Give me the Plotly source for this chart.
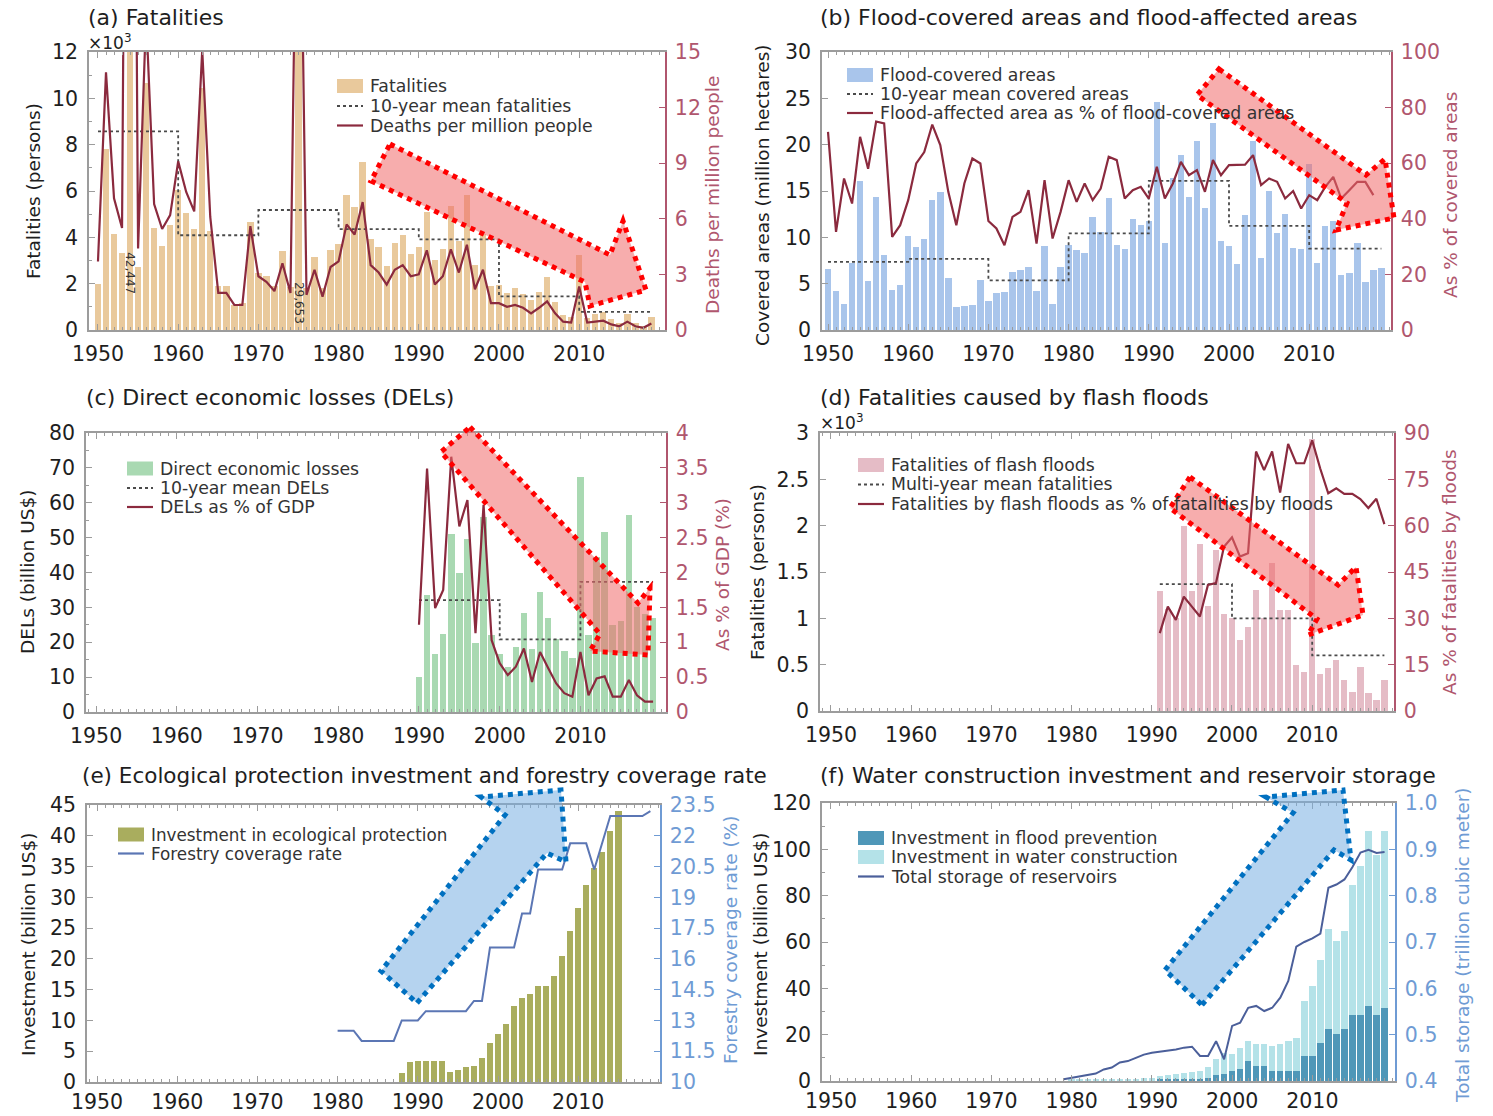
import plotly.graph_objects as go

W, H = 1493, 1116
FONT = "DejaVu Sans, Liberation Sans, Arial, sans-serif"
FRAME = "#9c9c9c"
INK = "#1e1e1e"
MAROON = "#8b2a3e"
RED_TXT = "#b0566e"
BLUE_TXT = "#6f9bd4"
MEAN_CLR = "#4a4a4a"

# ---------------- (a) fatalities ----------------
years_a = list(range(1950, 2020))
fatalities_k = [1.98, 7.82, 4.16, 3.31, 42.45, 2.72, 10.68, 4.42, 3.64, 4.54,
                6.03, 5.07, 4.35, 10.44, 4.29, 1.91, 1.90, 1.10, 1.16, 4.67,
                2.44, 2.32, 1.91, 3.41, 1.85, 29.65, 1.82, 3.16, 1.80, 3.45,
                3.71, 5.83, 5.32, 7.24, 3.94, 3.58, 2.76, 3.75, 4.09, 3.27,
                3.59, 5.11, 3.01, 3.50, 5.34, 3.85, 5.84, 2.80, 4.15, 1.90,
                1.94, 1.61, 1.82, 1.55, 1.28, 1.66, 2.28, 1.23, 0.63, 0.54,
                3.22, 0.52, 0.67, 0.78, 0.49, 0.32, 0.69, 0.32, 0.19, 0.57]
deaths_per_million = [3.7, 13.9, 7.1, 5.5, 70.5, 4.4, 17.0, 6.8, 5.45, 6.2,
                      9.1, 7.45, 6.4, 15.1, 6.1, 2.0, 2.0, 1.35, 1.35, 5.6,
                      2.9, 2.6, 2.1, 3.6, 2.0, 32.4, 1.9, 3.25, 1.8, 3.4,
                      3.7, 5.7, 5.15, 6.9, 3.5, 3.1, 2.45, 3.25, 3.5, 2.9,
                      3.0, 4.3, 2.45, 2.9, 4.35, 3.1, 4.6, 2.2, 3.25, 1.45,
                      1.45, 1.25, 1.35, 1.2, 0.9, 1.2, 1.55, 0.9, 0.45, 0.4,
                      2.35, 0.4, 0.45, 0.5, 0.3, 0.2, 0.45, 0.2, 0.12, 0.35]
decade_starts_a = [1950, 1960, 1970, 1980, 1990, 2000, 2010, 2019]
decade_mean_a = [8.57, 4.09, 5.18, 4.35, 3.91, 1.45, 0.78, 0.78]

# ---------------- (b) flood-covered areas ----------------
years_b = list(range(1950, 2020))
covered_area = [6.56, 4.17, 2.79, 7.19, 16.13, 5.25, 14.38, 8.08, 4.28, 4.81,
                10.16, 8.91, 9.81, 14.07, 14.93, 5.59, 2.51, 2.60, 2.67, 5.44,
                3.13, 3.99, 4.08, 6.24, 6.43, 6.82, 4.20, 9.10, 2.82, 6.78,
                9.15, 8.63, 8.36, 12.16, 10.63, 14.20, 9.16, 8.69, 11.95, 11.33,
                11.80, 24.60, 9.42, 16.39, 18.86, 14.37, 20.39, 13.14, 22.29, 9.61,
                9.05, 7.14, 12.38, 20.37, 7.78, 14.97, 10.52, 12.55, 8.87, 8.75,
                17.87, 7.19, 11.22, 11.78, 5.92, 6.13, 9.44, 5.20, 6.43, 6.68]
years_b_pct = list(range(1950, 2019))
affected_pct = [71.3, 35.3, 54.5, 45.5, 69.5, 58.0, 75.0, 74.3, 33.5, 37.7,
                46.7, 59.9, 64.0, 73.9, 66.5, 49.7, 37.7, 52.7, 61.7, 59.9,
                39.2, 36.5, 30.5, 40.7, 42.5, 50.3, 31.1, 53.9, 32.9, 42.5,
                53.9, 46.1, 52.7, 46.7, 50.9, 62.3, 61.1, 47.3, 50.3, 51.5,
                47.3, 58.7, 47.3, 52.7, 60.5, 55.7, 57.5, 49.7, 61.1, 55.7,
                59.3, 59.3, 59.5, 62.9, 52.1, 54.5, 53.3, 47.3, 50.0, 43.7,
                48.5, 46.7, 51.5, 55.1, 47.3, 50.3, 53.3, 53.3, 48.5]
decade_starts_b = [1950, 1960, 1970, 1980, 1990, 2000, 2010, 2019]
decade_mean_b = [7.36, 7.67, 5.36, 10.43, 16.09, 11.24, 8.79, 8.79]

# ---------------- (c) direct economic losses ----------------
years_c = list(range(1990, 2020))
del_billion = [10.0, 33.5, 16.5, 22.5, 51.0, 40.0, 49.5, 19.8, 56.0, 22.0,
               16.5, 13.0, 18.5, 28.5, 18.0, 34.5, 27.0, 21.0, 17.5, 15.5,
               67.5, 22.0, 44.5, 51.5, 25.0, 26.0, 56.5, 30.0, 28.0, 27.0]
del_pct_gdp = [1.25, 3.49, 1.49, 1.75, 3.66, 2.66, 3.04, 1.13, 2.97, 1.03,
               0.70, 0.53, 0.65, 0.91, 0.43, 0.86, 0.63, 0.41, 0.27, 0.22,
               0.86, 0.24, 0.48, 0.51, 0.22, 0.22, 0.46, 0.24, 0.15, 0.15]
decade_starts_c = [1990, 2000, 2010, 2019]
decade_mean_c = [32.1, 20.8, 37.3, 37.3]

# ---------------- (d) flash-flood fatalities ----------------
years_d = list(range(1991, 2020))
flash_k = [1.30, 1.10, 1.00, 2.00, 1.30, 1.80, 1.13, 1.74, 1.05,
           1.00, 0.77, 0.91, 1.31, 1.00, 1.60, 1.09, 1.09, 0.50, 0.42,
           2.93, 0.40, 0.46, 0.55, 0.33, 0.21, 0.48, 0.19, 0.12, 0.33]
flash_pct = [25.2, 33.8, 29.5, 37.0, 33.8, 30.6, 40.8, 41.4, 53.2,
             56.2, 50.0, 51.1, 84.0, 78.0, 84.0, 70.7, 86.5, 80.2, 80.2,
             87.6, 78.5, 70.5, 72.1, 70.3, 70.3, 68.6, 65.7, 68.7, 60.5]
period_starts_d = [1991, 2000, 2010, 2019]
period_mean_d = [1.37, 1.00, 0.60, 0.60]

# ---------------- (e) ecological protection ----------------
years_e = list(range(1988, 2016))
eco_invest = [1.5, 3.2, 3.4, 3.4, 3.4, 3.4, 1.6, 1.9, 2.4, 2.6,
              3.9, 6.3, 7.8, 9.4, 12.3, 13.7, 14.3, 15.6, 15.6, 17.2,
              20.4, 24.6, 28.2, 32.0, 34.8, 37.3, 40.7, 44.0]
years_forest = list(range(1980, 2020))
forest_rate = [12.5, 12.5, 12.5, 12.0, 12.0, 12.0, 12.0, 12.0, 13.0, 13.0,
               13.0, 13.45, 13.45, 13.45, 13.45, 13.45, 13.45, 13.95, 13.95, 16.55,
               16.55, 16.55, 16.55, 18.21, 18.21, 20.36, 20.36, 20.36, 20.36, 21.63,
               21.63, 21.63, 20.36, 21.63, 22.96, 22.96, 22.96, 22.96, 22.96, 23.2]

# ---------------- (f) water construction ----------------
years_f = list(range(1980, 2020))
water_invest = [0.8, 0.6, 0.6, 0.7, 0.7, 0.8, 0.9, 1.0, 1.0, 1.2,
                1.5, 2.0, 2.5, 3.0, 3.5, 3.7, 4.3, 6.0, 9.5, 12.0,
                11.5, 14.4, 17.2, 15.8, 15.8, 15.1, 15.8, 17.2, 18.7, 34.5,
                41.0, 52.4, 65.4, 60.3, 64.7, 84.8, 92.7, 107.8, 97.7, 107.8]
years_flood_inv = list(range(1991, 2020))
flood_invest = [0.5, 0.6, 0.7, 0.8, 0.9, 1.0, 1.5, 2.5, 2.9,
                4.3, 5.0, 8.6, 6.5, 6.5, 4.3, 4.3, 4.3, 4.3, 10.8,
                10.8, 16.5, 22.3, 20.1, 22.3, 28.7, 28.7, 32.3, 28.7, 31.6]
years_storage = list(range(1979, 2020))
storage_tcm = [0.404, 0.407, 0.410, 0.414, 0.416, 0.425, 0.429, 0.440, 0.443, 0.450,
               0.457, 0.461, 0.463, 0.465, 0.468, 0.472, 0.474, 0.454, 0.454, 0.486,
               0.447, 0.519, 0.526, 0.558, 0.562, 0.551, 0.558, 0.580, 0.616, 0.690,
               0.700, 0.708, 0.718, 0.817, 0.824, 0.835, 0.862, 0.893, 0.899, 0.892,
               0.894]

# colours of the series
C_FAT = "#e9c99c"
C_AREA = "#a9c5eb"
C_DEL = "#a9d9b2"
C_FLASH = "#e5bcc6"
C_ECO = "#a9ad5e"
C_WATER = "#b4e2e8"
C_FLOODINV = "#4f97b8"
C_FOREST = "#5b76b4"
C_STORAGE = "#4b5f9a"


# ---------------- helpers ----------------
def xdom(l, r):
    return [l / W, r / W]


def ydom(t, b):
    return [1 - b / H, 1 - t / H]


def px(x, y):
    return x / W, 1 - y / H


fig = go.Figure()

panels = [
    dict(xd=(89, 665), yd=(52, 330), xr=(1948.88, 2020.7), yl=(0, 12), dl=2,
         yr=(0, 15), rt=[0, 3, 6, 9, 12, 15], rc=RED_TXT, rfmt=None, xs=5),
    dict(xd=(822, 1391), yd=(52, 330), xr=(1949.25, 2020.2), yl=(0, 30), dl=5,
         yr=(0, 100), rt=[0, 20, 40, 60, 80, 100], rc=RED_TXT, rfmt=None, xs=5),
    dict(xd=(86, 666), yd=(433, 712), xr=(1948.75, 2020.6), yl=(0, 80), dl=10,
         yr=(0, 4), rt=[0, 0.5, 1, 1.5, 2, 2.5, 3, 3.5, 4], rc=RED_TXT, rfmt=None, xs=5),
    dict(xd=(820, 1394), yd=(433, 711), xr=(1948.63, 2020.2), yl=(0, 3), dl=0.5,
         yr=(0, 90), rt=[0, 15, 30, 45, 60, 75, 90], rc=RED_TXT, rfmt=None, xs=5),
    dict(xd=(87, 660), yd=(805, 1082), xr=(1948.75, 2020.2), yl=(0, 45), dl=5,
         yr=(10, 23.5), rt=[10, 11.5, 13, 14.5, 16, 17.5, 19, 20.5, 22, 23.5],
         rc=BLUE_TXT, rfmt=None, xs=1),
    dict(xd=(822, 1395), yd=(803, 1081), xr=(1948.88, 2020.3), yl=(0, 120), dl=20,
         yr=(0.4, 1.0), rt=[0.4, 0.5, 0.6, 0.7, 0.8, 0.9, 1.0], rc=BLUE_TXT, rfmt=".1f", xs=1),
]


def ax_names(i):
    xn = "x" if i == 0 else f"x{i + 1}"
    yl = "y" if i == 0 else f"y{2 * i + 1}"
    yr = f"y{2 * i + 2}"
    return xn, yl, yr


TICK_SIZE = 20.5
layout_axes = {}
for i, p in enumerate(panels):
    xn, yl, yr = ax_names(i)
    xkey = "xaxis" if i == 0 else f"xaxis{i + 1}"
    ylkey = "yaxis" if i == 0 else f"yaxis{2 * i + 1}"
    yrkey = f"yaxis{2 * i + 2}"
    layout_axes[xkey] = dict(
        domain=xdom(*p["xd"]), anchor=yl, range=list(p["xr"]),
        tickvals=[1950, 1960, 1970, 1980, 1990, 2000, 2010],
        ticks="inside", ticklen=6, tickcolor=FRAME, tickwidth=1.2,
        minor=dict(dtick=1, tick0=1950, ticks="inside", ticklen=3, tickcolor=FRAME),
        showline=True, linecolor=FRAME, linewidth=1.5, mirror="ticks",
        showgrid=False, zeroline=False, automargin=False,
        tickfont=dict(family=FONT, size=TICK_SIZE, color=INK),
        ticklabelstandoff=p["xs"],
    )
    layout_axes[ylkey] = dict(
        domain=ydom(*p["yd"]), anchor=xn, range=list(p["yl"]), dtick=p["dl"], tick0=0,
        ticks="inside", ticklen=6, tickcolor=FRAME, tickwidth=1.2,
        minor=dict(nticks=2, ticks="inside", ticklen=3, tickcolor=FRAME),
        showline=True, linecolor=FRAME, linewidth=1.5,
        showgrid=False, zeroline=False, automargin=False,
        tickfont=dict(family=FONT, size=TICK_SIZE, color=INK),
        ticklabelstandoff=5,
    )
    ry = dict(
        overlaying=yl, side="right", anchor=xn, range=list(p["yr"]),
        tickvals=p["rt"], ticks="inside", ticklen=6, tickcolor=p["rc"],
        showline=True, linecolor=p["rc"], linewidth=1.5,
        showgrid=False, zeroline=False, automargin=False,
        tickfont=dict(family=FONT, size=TICK_SIZE, color=p["rc"]),
        ticklabelstandoff=4,
    )
    if p["rfmt"]:
        ry["tickformat"] = p["rfmt"]
    layout_axes[yrkey] = ry


def bar(i, x, y, color, name, width=0.8):
    xn, yl, _ = ax_names(i)
    return go.Bar(x=x, y=y, marker=dict(color=color, line=dict(width=0)), width=width,
                  name=name, xaxis=xn, yaxis=yl)


def mean_line(i, x, y, name):
    xn, yl, _ = ax_names(i)
    return go.Scatter(x=x, y=y, mode="lines",
                      line=dict(color=MEAN_CLR, width=1.8, dash="dot", shape="hv"),
                      name=name, xaxis=xn, yaxis=yl)


def right_line(i, x, y, color, name, width=2.2):
    xn, _, yr = ax_names(i)
    return go.Scatter(x=x, y=y, mode="lines", line=dict(color=color, width=width),
                      name=name, xaxis=xn, yaxis=yr)


# (a)
fig.add_trace(bar(0, years_a, fatalities_k, C_FAT, "Fatalities"))
fig.add_trace(mean_line(0, decade_starts_a, decade_mean_a, "10-year mean fatalities"))
fig.add_trace(right_line(0, years_a, deaths_per_million, MAROON, "Deaths per million people"))
# (b)
fig.add_trace(bar(1, years_b, covered_area, C_AREA, "Flood-covered areas"))
fig.add_trace(mean_line(1, decade_starts_b, decade_mean_b, "10-year mean covered areas"))
fig.add_trace(right_line(1, years_b_pct, affected_pct, MAROON,
                         "Flood-affected area as % of flood-covered areas"))
# (c)
fig.add_trace(bar(2, years_c, del_billion, C_DEL, "Direct economic losses"))
fig.add_trace(mean_line(2, decade_starts_c, decade_mean_c, "10-year mean DELs"))
fig.add_trace(right_line(2, years_c, del_pct_gdp, MAROON, "DELs as % of GDP"))
# (d)
fig.add_trace(bar(3, years_d, flash_k, C_FLASH, "Fatalities of flash floods"))
fig.add_trace(mean_line(3, period_starts_d, period_mean_d, "Multi-year mean fatalities"))
fig.add_trace(right_line(3, years_d, flash_pct, MAROON,
                         "Fatalities by flash floods as % of fatalities by floods"))
# (e)
fig.add_trace(bar(4, years_e, eco_invest, C_ECO, "Investment in ecological protection"))
fig.add_trace(right_line(4, years_forest, forest_rate, C_FOREST, "Forestry coverage rate", 2.0))
# (f)
fig.add_trace(bar(5, years_f, water_invest, C_WATER, "Investment in water construction"))
fig.add_trace(bar(5, years_flood_inv, flood_invest, C_FLOODINV, "Investment in flood prevention"))
fig.add_trace(right_line(5, years_storage, storage_tcm, C_STORAGE, "Total storage of reservoirs", 2.0))

annotations = []
shapes = []


def text(xp, yp, s, size=22, color=INK, angle=0, xanchor="left", yanchor="middle"):
    x, y = px(xp, yp)
    annotations.append(dict(x=x, y=y, xref="paper", yref="paper", text=s, showarrow=False,
                            textangle=angle, xanchor=xanchor, yanchor=yanchor,
                            font=dict(family=FONT, size=size, color=color)))


# ---------------- legends (key swatch + label per row) ----------------
legend_rows = [
    (337, [86, 106, 125.5], 17.3, [("bar", C_FAT, "Fatalities"),
                                   ("dot", MEAN_CLR, "10-year mean fatalities"),
                                   ("line", MAROON, "Deaths per million people")]),
    (847, [75, 94, 113], 17.3, [("bar", C_AREA, "Flood-covered areas"),
                                ("dot", MEAN_CLR, "10-year mean covered areas"),
                                ("line", MAROON, "Flood-affected area as % of flood-covered areas")]),
    (127, [468.5, 488, 507], 17.3, [("bar", C_DEL, "Direct economic losses"),
                                    ("dot", MEAN_CLR, "10-year mean DELs"),
                                    ("line", MAROON, "DELs as % of GDP")]),
    (858, [465, 484.5, 504], 17.3, [("bar", C_FLASH, "Fatalities of flash floods"),
                                    ("dot", MEAN_CLR, "Multi-year mean fatalities"),
                                    ("line", MAROON, "Fatalities by flash floods as % of fatalities by floods")]),
    (118, [834.5, 853.5], 16.8, [("bar", C_ECO, "Investment in ecological protection"),
                                 ("line", C_FOREST, "Forestry coverage rate")]),
    (858, [838, 857, 876.5], 17.3, [("bar", C_FLOODINV, "Investment in flood prevention"),
                                    ("bar", C_WATER, "Investment in water construction"),
                                    ("line", C_STORAGE, "Total storage of reservoirs")]),
]
SW = 26
for sx, rows, fsize, entries in legend_rows:
    for yc, (kind, color, label) in zip(rows, entries):
        if kind == "bar":
            x0, y0 = px(sx, yc - 7)
            x1, y1 = px(sx + SW, yc + 7)
            shapes.append(dict(type="rect", xref="paper", yref="paper", x0=x0, y0=y0, x1=x1, y1=y1,
                               fillcolor=color, line=dict(width=0), layer="above"))
        else:
            x0, y0 = px(sx, yc)
            x1, _ = px(sx + SW, yc)
            shapes.append(dict(type="line", xref="paper", yref="paper", x0=x0, y0=y0, x1=x1, y1=y0,
                               line=dict(color=color, width=1.8 if kind == "dot" else 2.2,
                                         dash="dot" if kind == "dot" else "solid"),
                               layer="above"))
        text(sx + SW + 5, yc, label, size=fsize, color="#333333")

# panel titles
text(86, 18, "(a) Fatalities")
text(818, 18, "(b) Flood-covered areas and flood-affected areas")
text(84, 397, "(c) Direct economic losses (DELs)")
text(818, 397, "(d) Fatalities caused by flash floods")
text(80, 775, "(e) Ecological protection investment and forestry coverage rate", size=21.5)
text(818, 775, "(f) Water construction investment and reservoir storage")

# multipliers
text(86, 42, "×10<sup>3</sup>", size=17)
text(818, 422, "×10<sup>3</sup>", size=17)

# left axis titles
AT = 18.5
text(33, 191, "Fatalities (persons)", size=AT, angle=-90, xanchor="center")
text(762, 195, "Covered areas (million hectares)", size=AT, angle=-90, xanchor="center")
text(27, 572, "DELs (billion US$)", size=AT, angle=-90, xanchor="center")
text(757, 572, "Fatalities (persons)", size=AT, angle=-90, xanchor="center")
text(28, 945, "Investment (billion US$)", size=AT, angle=-90, xanchor="center")
text(760, 945, "Investment (billion US$)", size=AT, angle=-90, xanchor="center")

# right axis titles
text(712, 195, "Deaths per million people", size=AT, color=RED_TXT, angle=-90, xanchor="center")
text(1450, 195, "As % of covered areas", size=AT, color=RED_TXT, angle=-90, xanchor="center")
text(722, 575, "As % of GDP (%)", size=AT, color=RED_TXT, angle=-90, xanchor="center")
text(1449, 572, "As % of fatalities by floods", size=AT, color=RED_TXT, angle=-90, xanchor="center")
text(730, 940, "Forestry coverage rate (%)", size=AT, color=BLUE_TXT, angle=-90, xanchor="center")
text(1462, 945, "Total storage (trillion cubic meter)", size=AT, color=BLUE_TXT, angle=-90, xanchor="center")

# off-scale bar values in (a)
annotations.append(dict(x=1954, y=2.45, xref="x", yref="y", text="42,447", showarrow=False,
                        textangle=90, font=dict(family=FONT, size=12, color="#333333")))
annotations.append(dict(x=1975, y=1.15, xref="x", yref="y", text="29,653", showarrow=False,
                        textangle=90, font=dict(family=FONT, size=12, color="#333333")))


# ---------------- trend arrows ----------------
def arrow_path(pts):
    parts = []
    for k, (xp, yp) in enumerate(pts):
        x, y = px(xp, yp)
        parts.append(("M" if k == 0 else "L") + f"{x:.5f},{y:.5f}")
    return " ".join(parts) + " Z"


RED_FILL = "rgba(240,105,105,0.55)"
BLUE_FILL = "rgba(120,175,225,0.55)"
arrow_specs = [
    ([(390, 144), (610, 255), (623, 221), (646, 290), (590, 306), (585, 282), (371, 181)], RED_FILL, "#ff0000"),
    ([(1219, 69), (1366, 175), (1385, 159), (1394, 218), (1336, 230), (1347, 203), (1197, 95)], RED_FILL, "#ff0000"),
    ([(470, 427), (638, 603), (650, 588), (648, 655), (590, 651), (600, 634), (441, 452)], RED_FILL, "#ff0000"),
    ([(1190, 477), (1338, 585), (1356, 567), (1363, 615), (1308, 635), (1317, 619), (1170, 508)], RED_FILL, "#ff0000"),
    ([(417, 1003), (547, 853), (566, 862), (561, 790), (481, 797), (505, 815), (381, 971)], BLUE_FILL, "#0070c0"),
    ([(1202, 1005), (1334, 850), (1351, 860), (1343, 790), (1266, 797), (1293, 813), (1165, 970)], BLUE_FILL, "#0070c0"),
]
for pts, fill, edge in arrow_specs:
    shapes.append(dict(type="path", xref="paper", yref="paper", path=arrow_path(pts),
                       fillcolor=fill, line=dict(color=edge, width=5, dash="5px,5px"),
                       layer="above"))

fig.update_layout(
    width=W, height=H,
    margin=dict(l=0, r=0, t=0, b=0, pad=0, autoexpand=False),
    paper_bgcolor="white", plot_bgcolor="white",
    barmode="overlay", bargap=0,
    font=dict(family=FONT, color=INK),
    showlegend=False,
    annotations=annotations,
    shapes=shapes,
    **layout_axes,
)

fig.write_html("out.html")
